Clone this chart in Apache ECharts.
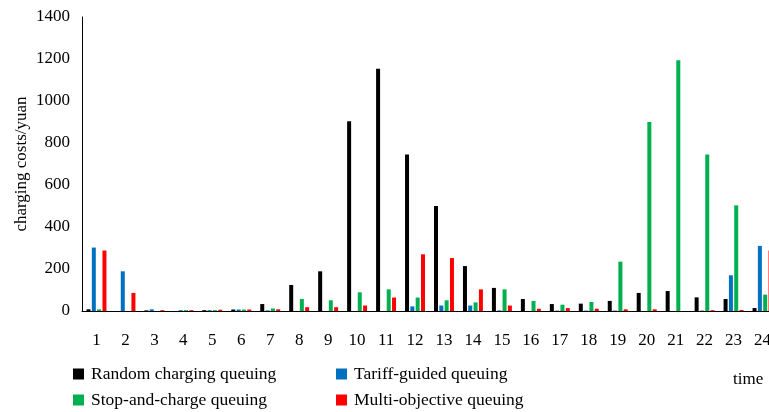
<!DOCTYPE html>
<html>
<head>
<meta charset="utf-8">
<script src="https://cdn.jsdelivr.net/npm/echarts@6/dist/echarts.min.js"></script>
<style>html,body{margin:0;padding:0;background:#fff}#c{width:769px;height:412px}</style>
</head>
<body>
<div id="c"></div>
<script>
const categories = ['1','2','3','4','5','6','7','8','9','10','11','12','13','14','15','16','17','18','19','20','21','22','23','24'];
const seriesNames = ['Random charging queuing','Tariff-guided queuing','Stop-and-charge queuing','Multi-objective queuing'];
const randomQ = [8, 0, 3, 0, 4, 7, 33, 124, 189, 903, 1154, 745, 500, 214, 110, 57, 33, 35, 48, 86, 95, 65, 57, 14];
const tariffQ = [302, 189, 8, 4, 4, 7, 3, 0, 0, 0, 0, 22, 26, 26, 3, 0, 2, 2, 2, 0, 0, 2, 170, 310];
const stopQ = [8, 0, 0, 4, 4, 7, 12, 57, 51, 89, 103, 64, 51, 41, 103, 48, 30, 43, 235, 900, 1194, 745, 503, 78];
const multiQ = [288, 86, 4, 4, 6, 7, 8, 18, 18, 26, 64, 270, 252, 103, 26, 11, 14, 11, 8, 8, 0, 4, 5, 288];
const yTicks = [0, 200, 400, 600, 800, 1000, 1200, 1400];

const colors = ['#000000', '#0070C0', '#00B050', '#FF0000'];
const font = "'Liberation Serif', 'Times New Roman', serif";
const chart = echarts.init(document.getElementById('c'), null, {renderer: 'canvas'});
const legendPos = [[73, 364], [336, 364], [73, 390], [336, 390]];
const values = [randomQ, tariffQ, stopQ, multiQ];

chart.setOption({
  animation: false,
  backgroundColor: '#ffffff',
  color: colors,
  title: {
    text: 'time', left: 733, top: 371, padding: 0,
    textStyle: {fontFamily: font, fontSize: 17, fontWeight: 'normal', color: '#000'}
  },
  legend: seriesNames.map((n, i) => ({
    data: [n],
    left: legendPos[i][0], top: legendPos[i][1], padding: 0,
    icon: 'rect', itemWidth: 11, itemHeight: 11, itemGap: 0,
    textStyle: {fontFamily: font, fontSize: 17.5, color: '#000', lineHeight: 20, padding: [0, 0, 0, 2]}
  })),
  grid: {left: 82, right: -8, top: 17, bottom: 101, containLabel: false, outerBoundsMode: 'none'},
  xAxis: {
    type: 'category', data: categories,
    axisLine: {show: true, lineStyle: {color: '#000', width: 1}},
    axisTick: {show: false},
    axisLabel: {fontFamily: font, fontSize: 17, color: '#000', margin: 21}
  },
  yAxis: {
    type: 'value', min: yTicks[0], max: yTicks[yTicks.length - 1], interval: yTicks[1] - yTicks[0],
    name: 'charging costs/yuan', nameLocation: 'middle', nameGap: 52, nameRotate: 90,
    nameMoveOverlap: false,
    nameTextStyle: {fontFamily: font, fontSize: 17, color: '#000'},
    axisLine: {show: true, lineStyle: {color: '#000', width: 1}},
    axisTick: {show: false},
    splitLine: {show: false},
    axisLabel: {fontFamily: font, fontSize: 17, color: '#000', margin: 12, formatter: v => String(v)}
  },
  series: values.map((v, i) => ({
    name: seriesNames[i], type: 'bar', data: v,
    barWidth: 4, barGap: '33%',
    itemStyle: {color: colors[i]}
  }))
});
</script>
</body>
</html>
